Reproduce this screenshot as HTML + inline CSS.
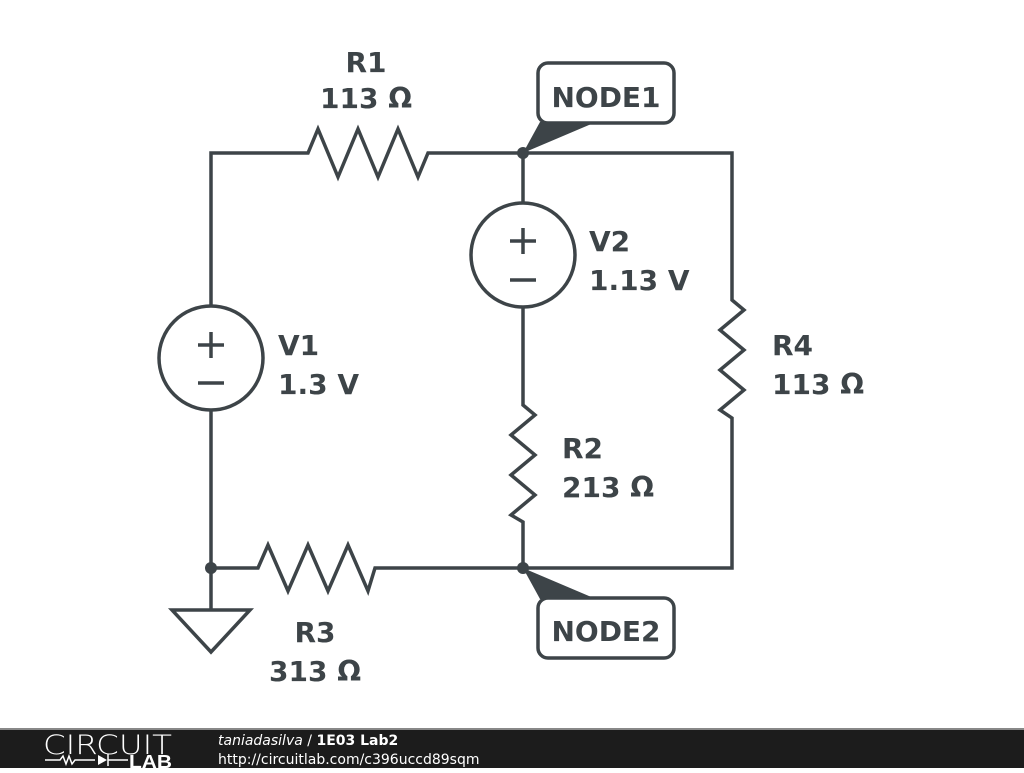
<!DOCTYPE html>
<html><head><meta charset="utf-8"><style>
body{margin:0;width:1024px;height:768px;background:#fff;overflow:hidden;font-family:"Liberation Sans",sans-serif}
</style></head><body>
<svg width="1024" height="768" viewBox="0 0 1024 768" xmlns="http://www.w3.org/2000/svg">
<g stroke="#3d4448" stroke-width="3.5" fill="none" stroke-linejoin="miter">
<polyline points="211,305 211,153 308,153 318,129 338,177 358,129 378,177 398,129 418,177 428,153 732,153 732,300 744,310 720,330 744,350 720,370 744,390 720,410 732,418 732,568 523,568"/>
<line x1="523" y1="153" x2="523" y2="203"/>
<polyline points="523,307 523,405 535,415 511,435 535,455 511,475 535,495 511,515 523,522 523,568"/>
<polyline points="211,410 211,610"/>
<polyline points="211,568 258,568 268,545 288,591 308,545 328,591 348,545 368,591 375,568 523,568"/>
<circle cx="211" cy="358" r="52"/>
<circle cx="523" cy="255" r="52"/>
<polygon points="172,610 250,610 211,652"/>
<line x1="198" y1="345" x2="224" y2="345"/><line x1="211" y1="332" x2="211" y2="358"/>
<line x1="198" y1="383" x2="224" y2="383"/>
<line x1="510" y1="241" x2="536" y2="241"/><line x1="523" y1="228" x2="523" y2="254"/>
<line x1="510" y1="280" x2="536" y2="280"/>
<rect x="538" y="63" width="136" height="60" rx="10"/>
<rect x="538" y="598" width="136" height="60" rx="10"/>
</g>
<g fill="#3d4448">
<circle cx="523" cy="153" r="6"/><circle cx="523" cy="568" r="6"/><circle cx="211" cy="568" r="6"/>
<polygon points="523,153 540,122 596,122"/>
<polygon points="523,568 540,599 596,599"/>
</g>
<g fill="#3d4448" font-family="DejaVu Sans, sans-serif" font-weight="bold" font-size="28">
<text x="366" y="72" text-anchor="middle">R1</text>
<text x="366" y="108" text-anchor="middle">113 Ω</text>
<text x="606" y="107" text-anchor="middle">NODE1</text>
<text x="606" y="641" text-anchor="middle">NODE2</text>
<text x="589" y="251">V2</text><text x="589" y="290">1.13 V</text>
<text x="278" y="355">V1</text><text x="278" y="394">1.3 V</text>
<text x="772" y="355">R4</text><text x="772" y="394">113 Ω</text>
<text x="562" y="458">R2</text><text x="562" y="497">213 Ω</text>
<text x="315" y="642" text-anchor="middle">R3</text><text x="315" y="681" text-anchor="middle">313 Ω</text>
</g>
<rect x="0" y="728" width="1024" height="40" fill="#1c1c1c"/>
<rect x="0" y="728" width="1024" height="2" fill="#888"/>
<text x="43" y="754" fill="#fff" font-size="27" font-family="DejaVu Sans, sans-serif" font-weight="200" textLength="129" lengthAdjust="spacingAndGlyphs">CIRCUIT</text>
<g stroke="#fff" stroke-width="1.5" fill="none"><polyline points="45,760 60,760 63,756 66,764 69,756 72,764 75,760 95,760"/><line x1="108" y1="760" x2="128" y2="760"/><line x1="108" y1="754" x2="108" y2="766"/></g>
<polygon points="98,755 98,765 107,760" fill="#fff"/>
<text x="129" y="768" fill="#fff" font-size="18" font-weight="bold" font-family="Liberation Sans, sans-serif" textLength="43" lengthAdjust="spacingAndGlyphs">LAB</text>
<text x="218" y="745" fill="#fff" font-size="14" font-family="DejaVu Sans, sans-serif"><tspan font-style="italic">taniadasilva</tspan> / <tspan font-weight="bold">1E03 Lab2</tspan></text>
<text x="218" y="764" fill="#fff" font-size="14" font-family="DejaVu Sans, sans-serif">http://circuitlab.com/c396uccd89sqm</text>
</svg>
</body></html>
